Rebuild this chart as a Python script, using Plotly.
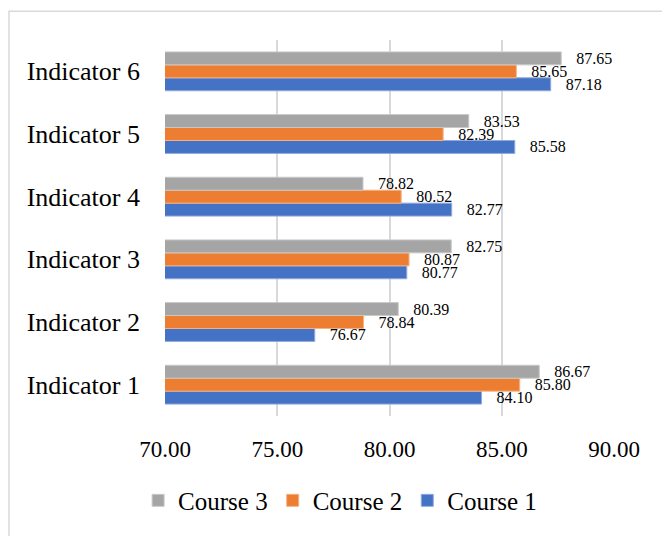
import plotly.graph_objects as go

categories = ["Indicator 1", "Indicator 2", "Indicator 3", "Indicator 4", "Indicator 5", "Indicator 6"]
course1 = [84.10, 76.67, 80.77, 82.77, 85.58, 87.18]
course2 = [85.80, 78.84, 80.87, 80.52, 82.39, 85.65]
course3 = [86.67, 80.39, 82.75, 78.82, 83.53, 87.65]
series_names = ["Course 1", "Course 2", "Course 3"]
colors = ["#4472C4", "#ED7D31", "#A5A5A5"]
line_colors = ["#8FAADC", "#F4B183", "#C9C9C9"]
tick_vals = [70, 75, 80, 85, 90]

FONT = "Liberation Serif"

fig = go.Figure()
for name, vals, c, lc in zip(series_names, [course1, course2, course3], colors, line_colors):
    fig.add_trace(go.Bar(
        name=name, y=categories, x=vals, orientation="h",
        marker=dict(color=c, line=dict(color=lc, width=1)),
        text=[f"{v:.2f}" for v in vals],
        texttemplate="\u00a0\u00a0\u00a0%{text}",
        textposition="outside",
        textfont=dict(family=FONT, size=16, color="#000000"),
        constraintext="none",
        cliponaxis=False,
    ))

fig.update_layout(
    width=662, height=536,
    margin=dict(l=165, r=48, t=40, b=118),
    paper_bgcolor="white", plot_bgcolor="white",
    barmode="group", bargap=0.38, bargroupgap=0,
    font=dict(family=FONT, color="#000000"),
    showlegend=True,
    legend=dict(orientation="h", traceorder="reversed", x=0.39, xanchor="center",
                y=-0.225, yanchor="middle", font=dict(family=FONT, size=25),
                itemwidth=30),
    xaxis=dict(range=[70, 90], tickvals=tick_vals, tickformat=".2f",
               showgrid=True, gridcolor="#D9D9D9", gridwidth=1.5,
               zeroline=False, showline=False, ticks="",
               tickfont=dict(family=FONT, size=23, color="#000000"),
               ticklabelstandoff=17),
    yaxis=dict(categoryorder="array", categoryarray=categories,
               showgrid=False, zeroline=False, showline=False, ticks="",
               tickfont=dict(family=FONT, size=26, color="#000000"),
               ticklabelstandoff=24),
    shapes=[dict(type="rect", xref="paper", yref="paper",
                 x0=(9 - 165) / 449, x1=(680 - 165) / 449,
                 y0=(418 - 560) / 378, y1=(418 - 11) / 378,
                 line=dict(color="#D9D9D9", width=1.5), fillcolor="rgba(0,0,0,0)",
                 layer="below")],
)

fig.write_html("out.html")
